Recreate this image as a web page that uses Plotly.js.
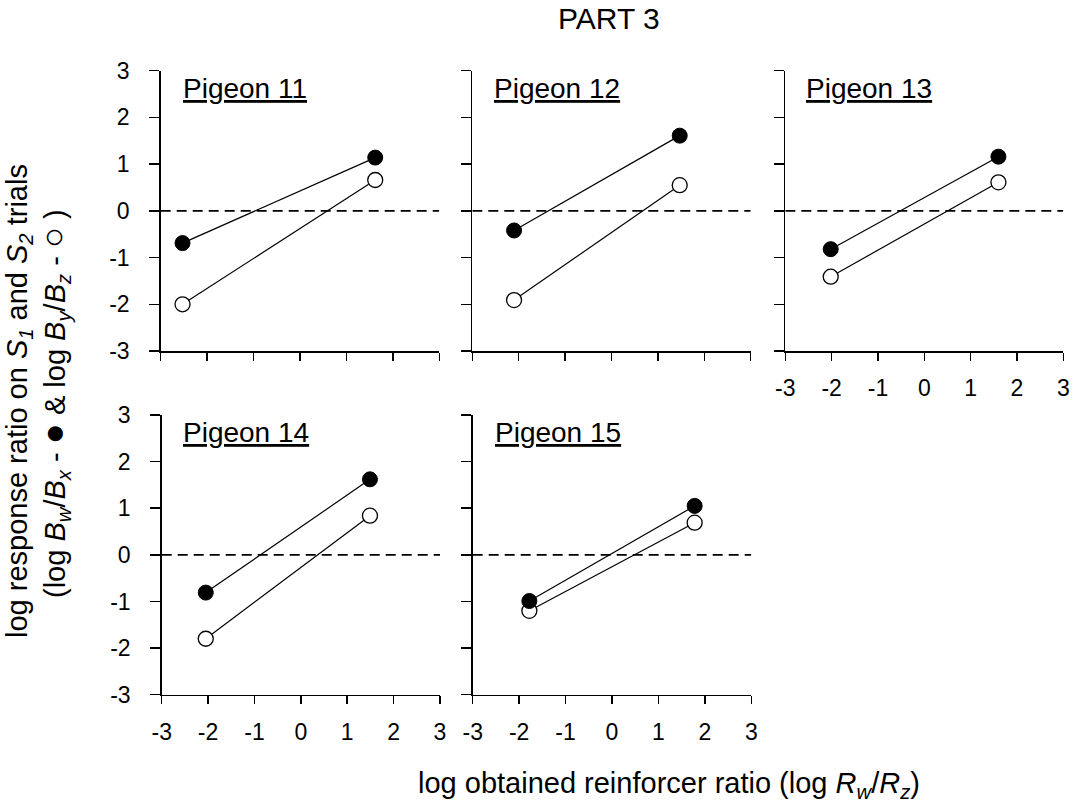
<!DOCTYPE html>
<html>
<head>
<meta charset="utf-8">
<script src="https://cdn.plot.ly/plotly-3.0.1.min.js"></script>
<style>html,body{margin:0;padding:0;background:#fff;}#chart{width:1073px;height:805px;}</style>
</head>
<body>
<div id="chart"></div>
<script>
// ---- data ----
const pigeonNames = ['Pigeon 11', 'Pigeon 12', 'Pigeon 13', 'Pigeon 14', 'Pigeon 15'];
const p11_x = [-2.53, 1.62], p11_filled = [-0.69, 1.14], p11_open = [-2.00, 0.66];
const p12_x = [-2.10, 1.47], p12_filled = [-0.42, 1.61], p12_open = [-1.91, 0.55];
const p13_x = [-2.02, 1.60], p13_filled = [-0.82, 1.16], p13_open = [-1.41, 0.61];
const p14_x = [-2.05, 1.49], p14_filled = [-0.81, 1.62], p14_open = [-1.80, 0.84];
const p15_x = [-1.78, 1.78], p15_filled = [-0.99, 1.05], p15_open = [-1.20, 0.69];
const refLineX = [-3, 3], refLineY = [0, 0];
const tickVals = [-3, -2, -1, 0, 1, 2, 3];
const tickText = ['-3', '-2', '-1', '0', '1', '2', '3'];

const W = 1073, H = 805;
const FONT = '"Liberation Sans", Arial, Helvetica, sans-serif';

// panel geometry in pixels: [left, right, top, bottom]
const boxes = [
  [160.7, 439.3, 70.7, 351],
  [472.3, 750.7, 70.7, 351],
  [785.3, 1063.3, 70.7, 351],
  [161.7, 440.0, 415, 694.7],
  [472.7, 751.3, 415, 694.7]
];
const showX = [false, false, true, true, true];
const showY = [true, false, false, true, false];
const titleLeft = [181, 491.5, 803.5, 180.5, 492.5];

const xs = [p11_x, p12_x, p13_x, p14_x, p15_x];
const filled = [p11_filled, p12_filled, p13_filled, p14_filled, p15_filled];
const opens = [p11_open, p12_open, p13_open, p14_open, p15_open];

const traces = [];
const layout = {
  width: W, height: H, autosize: false,
  margin: {l: 0, r: 0, t: 0, b: 0},
  paper_bgcolor: '#fff', plot_bgcolor: 'rgba(0,0,0,0)',
  showlegend: false,
  font: {family: FONT, color: '#000', size: 23},
  annotations: []
};

for (let i = 0; i < 5; i++) {
  const n = i + 1;
  const xa = n === 1 ? 'x' : 'x' + n;
  const ya = n === 1 ? 'y' : 'y' + n;
  const b = boxes[i];
  layout[n === 1 ? 'xaxis' : 'xaxis' + n] = {
    domain: [b[0] / W, b[1] / W], anchor: ya,
    range: [-3, 3], fixedrange: true,
    tickmode: 'array', tickvals: tickVals, ticktext: tickText,
    showticklabels: showX[i], ticks: 'outside', ticklen: 8, tickwidth: 1.5, tickcolor: '#000',
    ticklabelstandoff: 8,
    showline: true, linecolor: '#000', linewidth: 1.5, mirror: false,
    showgrid: false, zeroline: false,
    tickfont: {family: FONT, size: 23, color: '#000'}
  };
  layout[n === 1 ? 'yaxis' : 'yaxis' + n] = {
    domain: [(H - b[3]) / H, (H - b[2]) / H], anchor: xa,
    range: [-3, 3], fixedrange: true,
    tickmode: 'array', tickvals: tickVals, ticktext: tickText,
    showticklabels: showY[i], ticks: 'outside', ticklen: 10, tickwidth: 1.5, tickcolor: '#000',
    ticklabelstandoff: 15,
    showline: true, linecolor: '#000', linewidth: 1.5, mirror: false,
    showgrid: false, zeroline: false,
    tickfont: {family: FONT, size: 23, color: '#000'}
  };
  // dashed reference line at 0
  traces.push({x: refLineX, y: refLineY, xaxis: xa, yaxis: ya, mode: 'lines',
    line: {color: '#000', width: 1.6, dash: '10px,6px'}, hoverinfo: 'skip', cliponaxis: false});
  // open circles (S2)
  traces.push({x: xs[i], y: opens[i], xaxis: xa, yaxis: ya, mode: 'lines+markers',
    line: {color: '#000', width: 1.2},
    marker: {symbol: 'circle', size: 15, color: '#fff', line: {color: '#000', width: 1.3}},
    cliponaxis: false});
  // filled circles (S1)
  traces.push({x: xs[i], y: filled[i], xaxis: xa, yaxis: ya, mode: 'lines+markers',
    line: {color: '#000', width: 1.2},
    marker: {symbol: 'circle', size: 15, color: '#000', line: {color: '#000', width: 1}},
    cliponaxis: false});
  // panel title
  layout.annotations.push({
    text: '<u>' + pigeonNames[i] + '</u>', xref: 'paper', yref: 'paper',
    x: titleLeft[i] / W, y: (H - b[2]) / H, xanchor: 'left', yanchor: 'top',
    showarrow: false, font: {family: FONT, size: 28, color: '#000'}
  });
}

// figure title
layout.annotations.push({
  text: 'PART 3', xref: 'paper', yref: 'paper', x: 609 / W, y: 1, xanchor: 'center', yanchor: 'top',
  showarrow: false, font: {family: FONT, size: 30, color: '#000'}
});
// x-axis label
layout.annotations.push({
  text: 'log obtained reinforcer ratio (log <i>R<sub>w</sub></i>/<i>R<sub>z</sub></i>)',
  xref: 'paper', yref: 'paper', x: 669 / W, y: 0, xanchor: 'center', yanchor: 'bottom',
  showarrow: false, font: {family: FONT, size: 29, color: '#000'}
});
// y-axis label, two lines
layout.annotations.push({
  text: 'log response ratio on <i>S<sub>1</sub></i> and <i>S<sub>2</sub></i> trials',
  xref: 'paper', yref: 'paper', x: 19 / W, y: (H - 401) / H, xanchor: 'center', yanchor: 'middle',
  textangle: -90, showarrow: false, font: {family: FONT, size: 29, color: '#000'}
});
layout.annotations.push({
  text: '(log <i>B<sub>w</sub></i>/<i>B<sub>x</sub></i> - <span style="font-size:35px">\u25CF</span> &amp; log <i>B<sub>y</sub></i>/<i>B<sub>z</sub></i> - <span style="font-size:35px">\u25CB</span> )',
  xref: 'paper', yref: 'paper', x: 54 / W, y: (H - 404) / H, xanchor: 'center', yanchor: 'middle',
  textangle: -90, showarrow: false, font: {family: FONT, size: 29, color: '#000'}
});

Plotly.newPlot('chart', traces, layout, {staticPlot: true, displayModeBar: false});
</script>
</body>
</html>
